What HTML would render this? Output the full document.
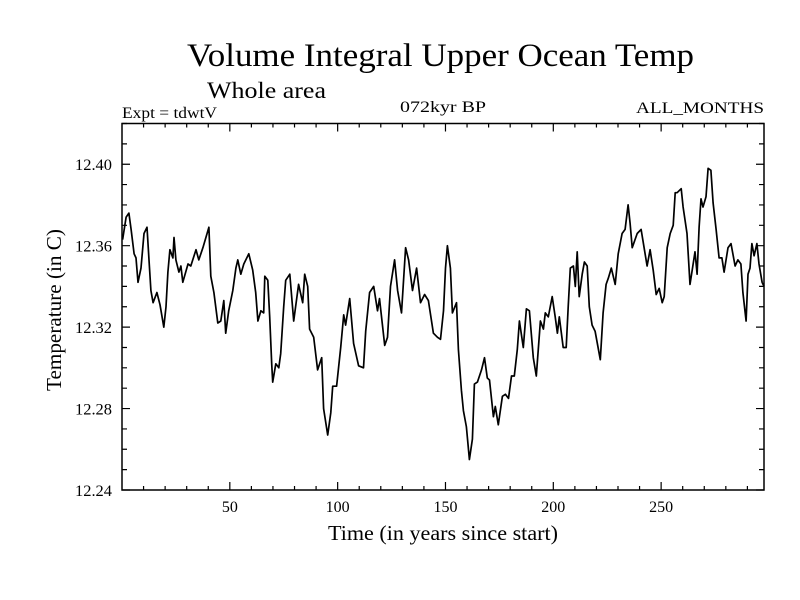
<!DOCTYPE html>
<html><head><meta charset="utf-8"><style>
html,body{margin:0;padding:0;background:#fff;}
svg{display:block;font-family:"Liberation Serif",serif;}
</style></head><body>
<svg id="chart" width="800" height="600" viewBox="0 0 800 600">
<text x="187" y="66" font-size="33" textLength="507" lengthAdjust="spacingAndGlyphs">Volume Integral Upper Ocean Temp</text>
<text x="207" y="98" font-size="23" textLength="119" lengthAdjust="spacingAndGlyphs">Whole area</text>
<text x="122" y="118" font-size="16" textLength="95" lengthAdjust="spacingAndGlyphs">Expt = tdwtV</text>
<text x="400" y="112" font-size="16" textLength="86" lengthAdjust="spacingAndGlyphs">072kyr BP</text>
<text x="636" y="113" font-size="16" textLength="128" lengthAdjust="spacingAndGlyphs">ALL_MONTHS</text>
<text x="328" y="540" font-size="21" textLength="230" lengthAdjust="spacingAndGlyphs">Time (in years since start)</text>
<text x="0" y="0" font-size="21" textLength="162" lengthAdjust="spacingAndGlyphs" transform="translate(61,391) rotate(-90)">Temperature (in C)</text>
<g id="axes"></g>
<path id="series" fill="none" stroke="#000" stroke-width="1.7" stroke-linejoin="round"/>
</svg>
<script>
const years = [0.3,1.9,3.2,4.2,5.6,6.5,7.4,8.8,10.2,11.6,12.5,13.4,14.4,16.2,17.6,19.4,20.4,21.3,22.2,23.6,24.1,25,26.4,27.3,28.2,30.6,31.9,34.3,35.6,37.5,38.9,40.3,41.2,42.6,44.4,45.8,47.2,48.1,49.5,51.4,52.8,53.7,55.1,56.5,58.8,60.6,62,63,64.4,65.7,66.2,67.6,68.5,69.4,69.9,71.3,72.7,73.6,75,75.9,77.8,79.6,81.9,83.8,84.7,86.1,87,88.9,90.7,92.6,93.5,95.4,96.8,97.7,99.5,101.4,102.8,103.7,105.6,107.4,109.7,112,113,114.8,116.7,118.5,119.4,121.8,123.1,124.5,126.4,127.8,129.6,131.5,132.9,134.7,136.6,138.4,140.3,142.1,144.4,146.3,147.7,149.1,150,150.9,152.3,153.2,155.1,156,157.4,158.3,159.7,161.1,162.5,163.4,164.8,166.7,168.1,169.4,170.4,172.2,173.1,174.5,176.4,177.8,179.2,180.6,181.9,183.3,184.3,186.1,187.5,188.9,190.7,192.1,194,195.4,196.3,197.7,199.5,200.9,201.9,202.8,204.6,206,206.9,207.9,209.3,210.2,211.1,212,213.4,214.4,215.7,216.7,218,219.4,221.8,223.1,224.5,225.5,226.9,228.7,230.1,231.9,233.3,234.7,235.6,236.6,238.9,240.7,242.1,243.5,244.9,246.3,247.7,249.1,250.5,251.4,252.8,254.2,255.6,256.5,257.4,259.3,260.2,262,263.4,264.4,265.7,266.7,267.6,268.5,269.4,270.8,271.8,273.1,274.1,275.5,276.9,278.2,279.2,281,282.4,284.3,285.6,287,287.9,289.4,290.3,291.2,292.1,293.1,294.4,295.4,296.8,297.7];
const temps = [12.363,12.374,12.376,12.368,12.356,12.354,12.342,12.349,12.366,12.369,12.353,12.338,12.332,12.337,12.331,12.320,12.330,12.347,12.358,12.354,12.364,12.353,12.347,12.350,12.342,12.351,12.350,12.358,12.353,12.359,12.364,12.369,12.345,12.337,12.322,12.323,12.333,12.317,12.328,12.338,12.349,12.353,12.346,12.351,12.356,12.348,12.337,12.323,12.328,12.327,12.345,12.343,12.325,12.302,12.293,12.302,12.300,12.307,12.330,12.343,12.346,12.323,12.341,12.332,12.346,12.340,12.319,12.315,12.299,12.305,12.280,12.267,12.278,12.291,12.291,12.310,12.326,12.321,12.334,12.312,12.301,12.300,12.318,12.337,12.340,12.328,12.334,12.311,12.315,12.340,12.353,12.338,12.327,12.359,12.353,12.338,12.349,12.332,12.336,12.333,12.317,12.315,12.314,12.328,12.349,12.360,12.349,12.327,12.332,12.309,12.289,12.279,12.271,12.255,12.265,12.292,12.293,12.299,12.305,12.295,12.294,12.276,12.281,12.272,12.286,12.287,12.285,12.296,12.296,12.309,12.323,12.310,12.329,12.328,12.305,12.296,12.323,12.319,12.327,12.325,12.335,12.325,12.317,12.325,12.310,12.310,12.330,12.349,12.350,12.340,12.357,12.335,12.346,12.352,12.350,12.330,12.321,12.318,12.304,12.327,12.341,12.344,12.349,12.341,12.356,12.366,12.368,12.380,12.371,12.359,12.366,12.368,12.359,12.350,12.358,12.348,12.336,12.339,12.332,12.335,12.359,12.366,12.370,12.386,12.386,12.388,12.379,12.366,12.341,12.348,12.357,12.346,12.369,12.383,12.379,12.384,12.398,12.397,12.381,12.368,12.354,12.354,12.347,12.359,12.361,12.350,12.353,12.351,12.337,12.323,12.346,12.349,12.361,12.355,12.361,12.351,12.342,12.340];
const xTickLabels = [50,100,150,200,250];
const yTickLabels = ["12.24","12.28","12.32","12.36","12.40"];

const L=122, R=764, T=123.5, B=490;
const X0=0, X1=297.7, Y0=12.24, Y1=12.42;
function sx(v){return L+(v-X0)/(X1-X0)*(R-L);}
function sy(v){return B-(v-Y0)/(Y1-Y0)*(B-T);}
const NS="http://www.w3.org/2000/svg";
const axes=document.getElementById('axes');
function mk(tag,attrs){const e=document.createElementNS(NS,tag);for(const k in attrs)e.setAttribute(k,attrs[k]);return e;}
const frame=mk('rect',{x:L,y:T,width:R-L,height:B-T,fill:'none',stroke:'#000','stroke-width':1.5});


axes.appendChild(frame);
let tk='';
for(let v=10;v<X1;v+=10){const x=sx(v);const len=(v%50===0)?8:4;tk+=`M${x},${B}v${-len}M${x},${T}v${len}`;}
for(let i=0;i<=18;i++){const v=Y0+i*0.01;const y=sy(v);const len=(i%4===0)?8:5;tk+=`M${L},${y}h${len}M${R},${y}h${-len}`;}
const ticks=mk('path',{d:tk,stroke:'#000','stroke-width':1.2,fill:'none'});


axes.appendChild(ticks);
xTickLabels.forEach(v=>{const t=mk('text',{x:sx(v),y:512,'font-size':16,'text-anchor':'middle'});t.textContent=v;


axes.appendChild(t);});
yTickLabels.forEach(s=>{const t=mk('text',{x:75,y:sy(parseFloat(s))+6,'font-size':16,textLength:37,lengthAdjust:'spacingAndGlyphs'});t.textContent=s;


axes.appendChild(t);});
let d='';
years.forEach((yr,i)=>{d+=(i?'L':'M')+sx(yr).toFixed(1)+','+sy(temps[i]).toFixed(1);});
document.getElementById('series').setAttribute('d',d);
</script>
</body></html>
